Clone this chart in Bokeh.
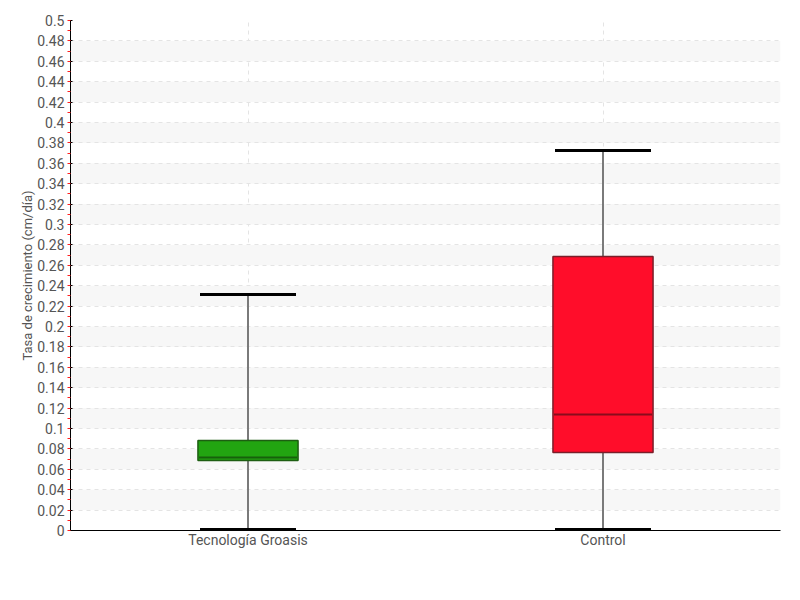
from bokeh.plotting import figure
from bokeh.models import FactorRange, Range1d, SingleIntervalTicker, CustomJSTickFormatter, ColumnDataSource
from bokeh.embed import file_html
from bokeh.resources import INLINE

categories = ["Tecnología Groasis", "Control"]
lower = [0.001, 0.001]
q1 = [0.0686, 0.0765]
median = [0.0716, 0.1137]
q3 = [0.0882, 0.2686]
upper = [0.2314, 0.3725]
fills = ["#22a511", "#ff0d2a"]
outlines = ["#1d5e12", "#7a1f2a"]
medcols = ["#17600c", "#8a0c1c"]

FONT = "Roboto, sans-serif"

p = figure(x_range=FactorRange(*categories, range_padding=0), y_range=Range1d(0, 0.5),
           frame_width=710, frame_height=510, width=792, height=592,
           min_border_left=70, min_border_right=12, min_border_top=20, min_border_bottom=62,
           output_backend="svg", toolbar_location=None)
p.outline_line_color = None
p.background_fill_color = "white"

src = ColumnDataSource(dict(cat=categories, lower=lower, q1=q1, median=median, q3=q3,
                            upper=upper, fill=fills, outline=outlines, med=medcols))

p.segment(x0="cat", x1="cat", y0="lower", y1="upper", source=src, line_color="#7a7a7a", line_width=2)
p.vbar(x="cat", bottom="q1", top="q3", width=0.282, source=src, fill_color="fill",
       line_color="outline", line_width=1.5)
p.dash(x="cat", y="median", size=98, angle=0, source=src, line_color="med", line_width=2)
p.dash(x="cat", y="upper", size=96, angle=0, source=src, line_color="black", line_width=3)
p.dash(x="cat", y="lower", size=96, angle=0, source=src, line_color="black", line_width=3)

# y axis
yax = p.yaxis[0]
yax.ticker = SingleIntervalTicker(interval=0.02, num_minor_ticks=2)
yax.formatter = CustomJSTickFormatter(code="return String(parseFloat(tick.toFixed(2)));")
yax.axis_label = "Tasa de crecimiento (cm/día)"
yax.axis_label_text_font = FONT
yax.axis_label_text_font_style = "normal"
yax.axis_label_text_font_size = "13px"
yax.axis_label_text_color = "#555555"
yax.axis_label_standoff = -1
yax.major_label_text_font = FONT
yax.major_label_text_font_size = "14px"
yax.major_label_text_color = "#555555"
yax.major_label_standoff = 3
yax.axis_line_color = "black"
yax.major_tick_line_color = "black"
yax.major_tick_in = 2
yax.major_tick_out = 2
yax.minor_tick_line_color = "#ff2020"
yax.minor_tick_in = 0
yax.minor_tick_out = 3

xax = p.xaxis[0]
xax.major_label_text_font = FONT
xax.major_label_text_font_size = "14px"
xax.major_label_text_color = "#555555"
xax.major_tick_line_color = None
xax.major_tick_out = 0
xax.major_tick_in = 0
xax.minor_tick_line_color = None
xax.axis_line_color = "black"
xax.major_label_standoff = 1

p.ygrid.ticker = SingleIntervalTicker(interval=0.02)
p.ygrid.grid_line_color = "#e4e4e4"
p.ygrid.grid_line_dash = "4 4"
p.ygrid.band_fill_color = "#f7f7f7"
p.ygrid.band_fill_alpha = 1
p.xgrid.grid_line_color = "#e4e4e4"
p.xgrid.grid_line_dash = "4 4"

open("out.html", "w").write(file_html(p, INLINE))
